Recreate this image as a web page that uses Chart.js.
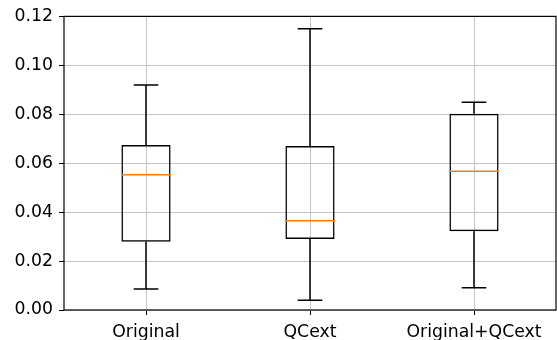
<!DOCTYPE html>
<html>
<head>
<meta charset="utf-8">
<script src="https://cdn.jsdelivr.net/npm/chart.js@4"></script>
<style>
  html, body { margin: 0; padding: 0; background: #fff; }
  #wrap { width: 557px; height: 340px; }
</style>
</head>
<body>
<div id="wrap"><canvas id="boxChart" width="557" height="340"></canvas></div>
<script>
// Box plot values
const categories = ['Original', 'QCext', 'Original+QCext'];
const whiskerLow = [0.0086, 0.0040, 0.0091];
const q1 = [0.0279, 0.0290, 0.0322];
const medians = [0.0553, 0.0365, 0.0567];
const q3 = [0.0674, 0.0670, 0.0802];
const whiskerHigh = [0.0920, 0.1149, 0.0849];
const yTicks = [0, 0.02, 0.04, 0.06, 0.08, 0.10, 0.12];

const boxWidthFrac = 0.3;   // of category width
const capWidthFrac = 0.15;

// Whiskers, caps, medians and the axes frame
const boxExtras = {
    id: 'boxExtras',
    afterDatasetsDraw(chart) {
        const { ctx, chartArea, scales: { x, y } } = chart;
        const catW = x.width / categories.length;
        ctx.save();
        ctx.lineCap = 'butt';
        categories.forEach((c, i) => {
            const cx = x.getPixelForValue(i);
            const capHalf = catW * capWidthFrac / 2;
            const boxHalf = catW * boxWidthFrac / 2;
            ctx.strokeStyle = '#000';
            ctx.lineWidth = 1.5;
            ctx.beginPath();
            // lower whisker
            ctx.moveTo(cx, y.getPixelForValue(q1[i]));
            ctx.lineTo(cx, y.getPixelForValue(whiskerLow[i]));
            ctx.moveTo(cx - capHalf, y.getPixelForValue(whiskerLow[i]));
            ctx.lineTo(cx + capHalf, y.getPixelForValue(whiskerLow[i]));
            // upper whisker
            ctx.moveTo(cx, y.getPixelForValue(q3[i]));
            ctx.lineTo(cx, y.getPixelForValue(whiskerHigh[i]));
            ctx.moveTo(cx - capHalf, y.getPixelForValue(whiskerHigh[i]));
            ctx.lineTo(cx + capHalf, y.getPixelForValue(whiskerHigh[i]));
            ctx.stroke();
            // median
            ctx.strokeStyle = '#ff7f0e';
            ctx.beginPath();
            ctx.moveTo(cx - boxHalf, y.getPixelForValue(medians[i]));
            ctx.lineTo(cx + boxHalf, y.getPixelForValue(medians[i]));
            ctx.stroke();
        });
        ctx.strokeStyle = '#000';
        ctx.lineWidth = 1.2;
        ctx.strokeRect(chartArea.left, chartArea.top,
            chartArea.right - chartArea.left, chartArea.bottom - chartArea.top);
        ctx.restore();
    }
};

const ctx = document.getElementById('boxChart').getContext('2d');
new Chart(ctx, {
    type: 'bar',
    data: {
        labels: categories,
        datasets: [{
            data: q1.map((v, i) => [v, q3[i]]),
            backgroundColor: 'rgba(0,0,0,0)',
            borderColor: '#000',
            borderWidth: 1.5,
            borderSkipped: false,
            barPercentage: boxWidthFrac,
            categoryPercentage: 1
        }]
    },
    options: {
        responsive: false,
        animation: false,
        layout: { padding: { top: 16, right: 1, left: 0, bottom: 0 } },
        plugins: {
            legend: { display: false },
            tooltip: { enabled: false }
        },
        scales: {
            x: {
                offset: true,
                grid: {
                    color: '#c4c4c4',
                    lineWidth: 1,
                    offset: false,
                    tickColor: '#000',
                    tickLength: 5
                },
                border: { display: false },
                ticks: {
                    color: '#000',
                    padding: 7,
                    maxRotation: 0,
                    font: { family: 'DejaVu Sans', size: 17.3 }
                },
                afterFit(scale) { scale.height = 30; }
            },
            y: {
                min: 0,
                max: 0.12,
                afterBuildTicks(scale) {
                    scale.ticks = yTicks.map(v => ({ value: v }));
                },
                grid: {
                    color: '#c4c4c4',
                    lineWidth: 1,
                    tickColor: '#000',
                    tickLength: 5
                },
                border: { display: false },
                ticks: {
                    color: '#000',
                    padding: 6,
                    font: { family: 'DejaVu Sans', size: 17.3 },
                    callback: v => v.toFixed(2)
                },
                afterFit(scale) { scale.width = 64; }
            }
        }
    },
    plugins: [boxExtras]
});
</script>
</body>
</html>
